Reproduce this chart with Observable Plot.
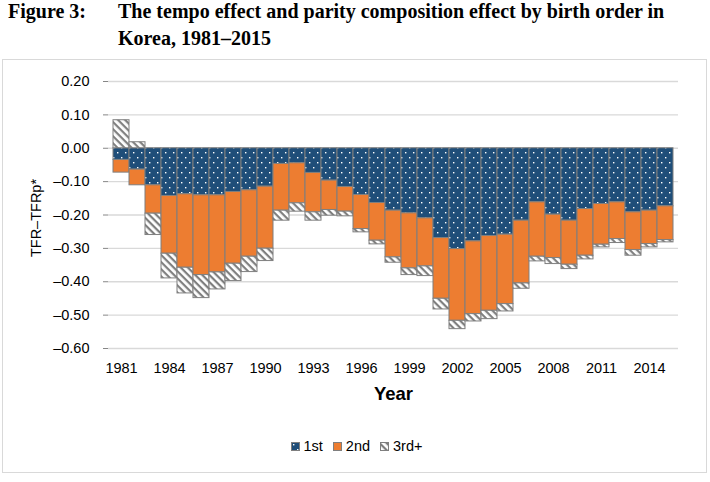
<!DOCTYPE html>
<html><head><meta charset="utf-8">
<script src="https://cdn.jsdelivr.net/npm/d3@7"></script>
<script src="https://cdn.jsdelivr.net/npm/@observablehq/plot@0.6"></script>
<style>
body{margin:0;background:#fff;width:710px;height:482px;position:relative;overflow:hidden;font-family:"Liberation Sans",Arial,sans-serif;}
.t{position:absolute;top:-2px;font-family:"Liberation Serif","Times New Roman",serif;font-weight:bold;font-size:20px;line-height:26.5px;color:#000;white-space:nowrap;}
#frame{position:absolute;left:2px;top:59px;width:705px;height:414px;border:1px solid #d9d9d9;box-sizing:border-box;}
#chart{position:absolute;left:0;top:0;}
#ylab{position:absolute;left:36px;top:218px;transform:translate(-50%,-50%) rotate(-90deg);font-size:14.5px;white-space:nowrap;color:#000;}
#legend{position:absolute;left:4px;right:0;top:377px;height:18px;display:flex;justify-content:center;align-items:center;font-size:14.5px;color:#000;}
#legend .item{display:flex;align-items:center;margin:0 5px;}
#legend svg{margin-right:4px;}
</style></head>
<body>
<div class="t" style="left:8px">Figure 3:</div>
<div class="t" style="left:118px">The tempo effect and parity composition effect by birth order in<br>Korea, 1981–2015</div>
<div id="frame"><div id="chart"></div><div id="legend"></div></div>
<div id="ylab">TFR–TFRp*</div>
<script>
const years = [1981,1982,1983,1984,1985,1986,1987,1988,1989,1990,1991,1992,1993,1994,1995,1996,1997,1998,1999,2000,2001,2002,2003,2004,2005,2006,2007,2008,2009,2010,2011,2012,2013,2014,2015];
const first = [-0.035,-0.064,-0.111,-0.143,-0.138,-0.141,-0.141,-0.131,-0.126,-0.115,-0.047,-0.045,-0.074,-0.097,-0.116,-0.140,-0.164,-0.187,-0.195,-0.210,-0.269,-0.302,-0.279,-0.263,-0.259,-0.217,-0.162,-0.199,-0.217,-0.182,-0.167,-0.162,-0.192,-0.187,-0.174];
const second = [-0.038,-0.047,-0.085,-0.173,-0.220,-0.239,-0.231,-0.215,-0.199,-0.186,-0.140,-0.120,-0.118,-0.088,-0.074,-0.102,-0.113,-0.140,-0.165,-0.144,-0.182,-0.215,-0.218,-0.224,-0.208,-0.188,-0.163,-0.130,-0.132,-0.140,-0.122,-0.110,-0.113,-0.100,-0.101];
const third = [0.084,0.018,-0.064,-0.074,-0.077,-0.069,-0.051,-0.052,-0.046,-0.037,-0.030,-0.025,-0.025,-0.017,-0.014,-0.010,-0.011,-0.016,-0.020,-0.029,-0.032,-0.025,-0.022,-0.025,-0.022,-0.016,-0.014,-0.018,-0.013,-0.011,-0.008,-0.012,-0.017,-0.010,-0.007];
const seriesNames = ["1st","2nd","3rd+"];
const xTicks = [1981,1984,1987,1990,1993,1996,1999,2002,2005,2008,2011,2014];
const yTicks = [0.2,0.1,0,-0.1,-0.2,-0.3,-0.4,-0.5,-0.6];

const table = [];
years.forEach((y,i)=>{
  table.push({year:y, series:"1st", value:first[i]});
  table.push({year:y, series:"2nd", value:second[i]});
  table.push({year:y, series:"3rd+", value:third[i]});
});

const fills = ["url(#dots)","#ED7D31","url(#hatch)"];
const fmt = v => Math.abs(v) < 1e-9 ? "0.00" : (v < 0 ? "\u2013" : "") + Math.abs(v).toFixed(2);

const chart = Plot.plot({
  width: 703, height: 350,
  marginLeft: 105, marginRight: 28, marginTop: 21, marginBottom: 62,
  style: {fontFamily: '"Liberation Sans", Arial, sans-serif', fontSize: "14.5px", color: "#000", background: "transparent"},
  x: {type: "band", domain: years, padding: 0, axis: null},
  y: {domain: [-0.6, 0.2], axis: null},
  color: {domain: seriesNames, range: fills},
  marks: [
    Plot.gridY(yTicks, {stroke: "#d9d9d9", strokeOpacity: 1, strokeWidth: 1.3}),
    Plot.barY(table, {x: "year", y: "value", fill: "series", stroke: "#7f7f7f", strokeWidth: 1}),
    Plot.axisY(yTicks, {tickFormat: fmt, tickSize: 5, tickPadding: 14, stroke: "#868686", line: true, label: null, fontSize: "14.5px"}),
    Plot.axisX(xTicks, {tickFormat: d => String(d), tickSize: 0, tickPadding: 14, label: null, fontSize: "14.5px"}),
    Plot.text(["Year"], {frameAnchor: "bottom", dy: 46, lineAnchor: "middle", fontWeight: "bold", fontSize: "18.5px"})
  ]
});

const defs = `<defs>
<pattern id="dots" patternUnits="userSpaceOnUse" width="8" height="10">
<rect width="8" height="10" fill="#1F4E79"/>
<rect x="2" y="2" width="1.4" height="1.4" fill="#fff"/>
<rect x="6" y="7" width="1.4" height="1.4" fill="#fff"/>
</pattern>
<pattern id="hatch" patternUnits="userSpaceOnUse" width="5" height="5" patternTransform="rotate(45)">
<rect width="5" height="5" fill="#fff"/>
<rect width="5" height="2.2" fill="#7f7f7f"/>
</pattern>
</defs>`;
chart.insertAdjacentHTML("afterbegin", defs);
document.getElementById("chart").appendChild(chart);

const legend = document.getElementById("legend");
seriesNames.forEach((s,i)=>{
  const item = document.createElement("div");
  item.className = "item";
  item.innerHTML = `<svg width="9" height="9"><rect x="0.5" y="0.5" width="8" height="8" fill="${fills[i]}" stroke="#7f7f7f" stroke-width="1"/></svg><span>${s}</span>`;
  legend.appendChild(item);
});
</script>
</body></html>
